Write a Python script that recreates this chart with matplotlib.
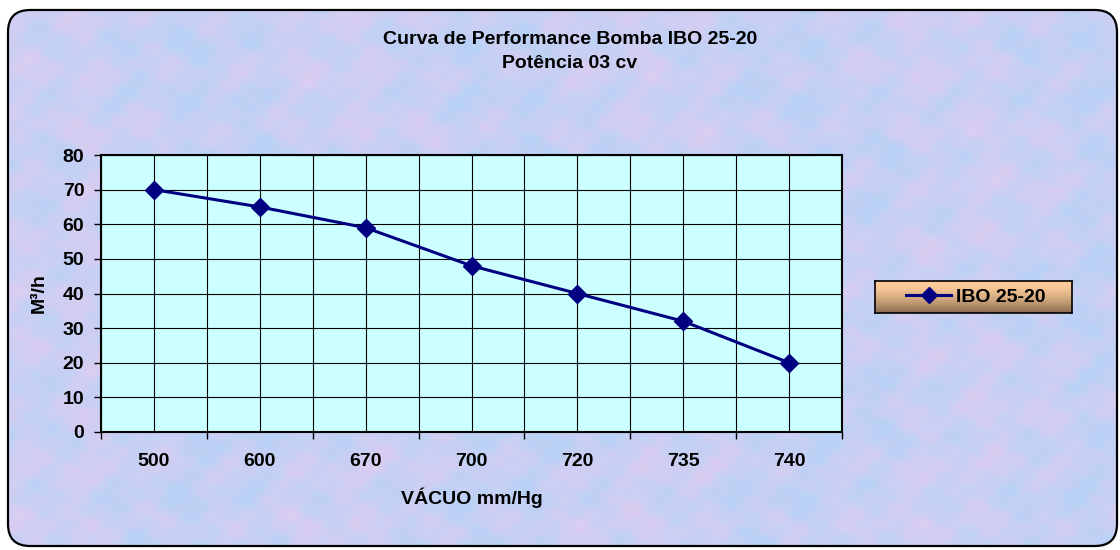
import matplotlib
matplotlib.use('Agg')
import matplotlib.pyplot as plt
import numpy as np
from matplotlib.patches import FancyBboxPatch
from matplotlib.lines import Line2D

plt.rcParams['font.family'] = ['Liberation Sans', 'DejaVu Sans']
plt.rcParams['font.weight'] = 'bold'

# data
vacuo = ['500', '600', '670', '700', '720', '735', '740']
vazao = [70, 65, 59, 48, 40, 32, 20]
y_ticks = [0, 10, 20, 30, 40, 50, 60, 70, 80]
serie = 'IBO 25-20'

W, H = 1120, 550
fig = plt.figure(figsize=(W / 100, H / 100), dpi=100)
fig.patch.set_facecolor('white')

# background layer in pixel coords
bg = fig.add_axes([0, 0, 1, 1])
bg.set_xlim(0, W)
bg.set_ylim(H, 0)
bg.axis('off')

# pastel mottled texture (decoration only)
yy, xx = np.mgrid[0:H:2, 0:W:2].astype(float)
t = (0.38 + 0.14 * np.sin(xx / 11 + 1.3 * np.sin(yy / 15))
     + 0.12 * np.sin(yy / 9 + 0.9 * np.sin(xx / 19))
     + 0.08 * np.sin((xx + yy) / 6) + 0.06 * np.sin((xx - 2 * yy) / 7)
     + 0.10 * np.sin(xx / 47 + np.sin(yy / 37)))
t = np.clip(t, 0, 1)
c1 = np.array([184, 210, 246]) / 255
c2 = np.array([226, 204, 240]) / 255
tex = c1[None, None, :] * (1 - t[..., None]) + c2[None, None, :] * t[..., None]

frame = FancyBboxPatch((8, 10), 1109, 536, boxstyle='round,pad=0,rounding_size=22',
                       fc='none', ec='black', lw=1.6, zorder=3)
bg.add_patch(frame)
im = bg.imshow(tex, extent=(0, W, H, 0), aspect='auto', zorder=1, interpolation='bilinear')
im.set_clip_path(frame)

# titles
bg.text(570, 39, 'Curva de Performance Bomba IBO 25-20', ha='center', va='center',
        fontsize=14, fontweight='bold')
bg.text(570, 64, 'Potência 03 cv', ha='center', va='center', fontsize=14, fontweight='bold')

# main plot
ax = fig.add_axes([101 / W, 1 - 432 / H, 741 / W, 277 / H])
ax.set_facecolor('#CCFFFF')
x = np.arange(len(vacuo))
ax.plot(x, vazao, color='#000080', lw=2.2, marker='D', markersize=9.5, zorder=5, clip_on=False)

ax.set_xlim(-0.5, len(vacuo) - 0.5)
ax.set_ylim(0, 80)
ax.set_yticks(y_ticks)
ax.set_xticks(np.arange(-0.5, len(vacuo), 1.0))
ax.set_xticklabels([])
ax.set_xticks(x, minor=True)
ax.set_xticklabels(vacuo, minor=True)
ax.tick_params(axis='x', which='major', length=5, width=1, direction='out')
ax.tick_params(axis='x', which='minor', length=0, pad=15, labelsize=14)
ax.tick_params(axis='y', length=5, width=1, pad=7, labelsize=14)
for lab in ax.get_xticklabels(minor=True) + ax.get_yticklabels():
    lab.set_fontweight('bold')

ax.grid(True, which='both', axis='x', color='black', lw=0.8)
ax.grid(True, which='major', axis='y', color='black', lw=0.8)
ax.set_axisbelow(True)
for s in ax.spines.values():
    s.set_linewidth(1.5)

ax.set_xlabel('VÁCUO mm/Hg', fontsize=14, fontweight='bold', labelpad=13)
ax.set_ylabel('M³/h', fontsize=14, fontweight='bold', labelpad=11)

# legend with gradient box
lg = fig.add_axes([875 / W, 1 - 313 / H, 197 / W, 32 / H])
grad = np.linspace(0, 1, 64)[:, None]
top = np.array([255, 206, 156]) / 255
bot = np.array([136, 108, 80]) / 255
g = grad ** 1.6
gimg = top[None, None, :] * (1 - g[..., None]) + bot[None, None, :] * g[..., None]
gimg = np.repeat(gimg, 2, axis=1)
lg.imshow(gimg, extent=(0, 1, 0, 1), aspect='auto')
lg.set_xticks([])
lg.set_yticks([])
for s in lg.spines.values():
    s.set_linewidth(1.2)

handle = Line2D([], [], color='#000080', lw=2.2, marker='D', markersize=8)
fig.legend([handle], [serie], loc='center', bbox_to_anchor=(976 / W, 1 - 297 / H),
           frameon=False, prop={'weight': 'bold', 'size': 14}, handlelength=2.3,
           handletextpad=0.25)

fig.savefig('out.png', dpi=100)
